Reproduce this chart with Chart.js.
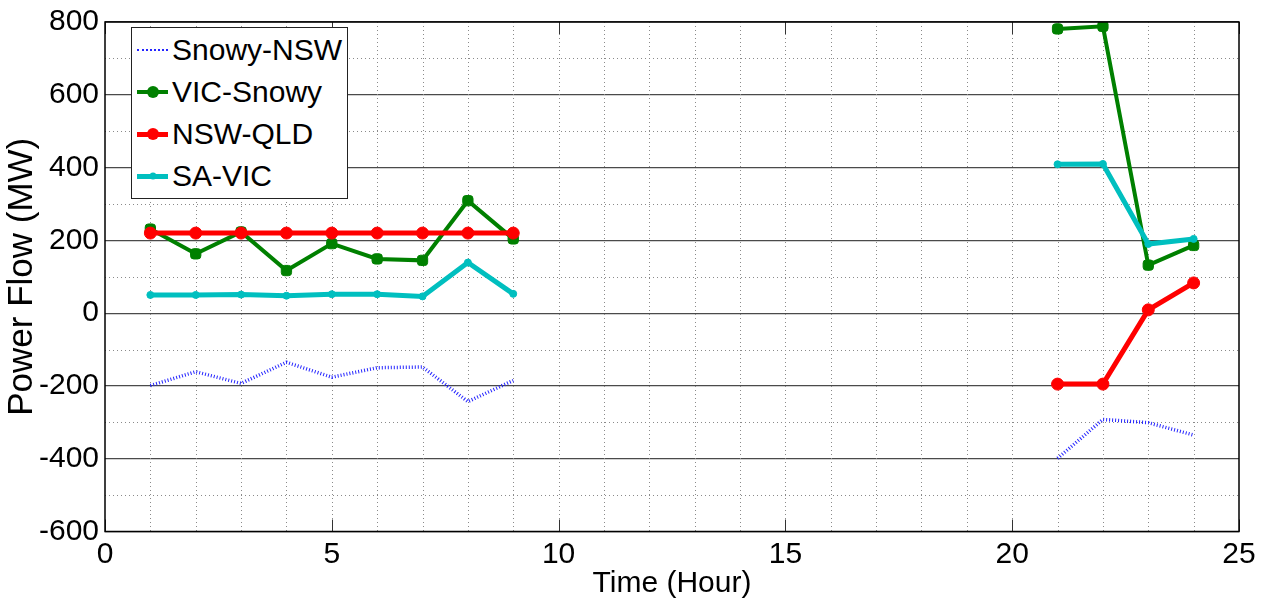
<!DOCTYPE html>
<html>
<head>
<meta charset="utf-8">
<title>Interconnector power flow</title>
<script src="https://cdn.jsdelivr.net/npm/chart.js@4.4.1/dist/chart.umd.min.js"></script>
<style>
    html, body { margin: 0; padding: 0; background: #fff; }
    .wrap { position: relative; width: 1268px; height: 610px; overflow: hidden; }
    .legend {
        position: absolute; left: 131px; top: 27px; width: 217px; height: 172px;
        border: 1px solid #222; background: #fff; box-sizing: border-box; padding-top: 1px;
        font-family: 'Liberation Sans', Arial, sans-serif; font-size: 30px; color: #000;
    }
    .legend .row { position: relative; height: 42px; line-height: 42px; padding-left: 40px; white-space: nowrap; }
    .legend .swatch { position: absolute; left: 5px; top: 21px; width: 31px; }
    .legend .dot { position: absolute; left: 50%; border-radius: 50%; transform: translate(-50%, -50%); }
</style>
</head>
<body>
<div class="wrap">
    <canvas id="flowChart"></canvas>
    <div class="legend" id="legend"></div>
</div>
<script>
// Hourly interconnector flows (MW); hours 10-20 have no data
const hours = [1, 2, 3, 4, 5, 6, 7, 8, 9, 10, 11, 12, 13, 14, 15, 16, 17, 18, 19, 20, 21, 22, 23, 24];
const seriesNames = ['Snowy-NSW', 'VIC-Snowy', 'NSW-QLD', 'SA-VIC'];
const snowyNsw = [-199, -161, -193, -135, -176, -150, -148, -243, -185, null, null, null, null, null, null, null, null, null, null, null, -399, -292, -301, -335];
const vicSnowy = [231, 163, 223, 117, 191, 149, 145, 309, 204, null, null, null, null, null, null, null, null, null, null, null, 781, 788, 132, 186];
const nswQld = [220, 220, 220, 220, 220, 220, 220, 220, 220, null, null, null, null, null, null, null, null, null, null, null, -195, -195, 9, 83];
const saVic = [50, 50, 51, 48, 52, 52, 46, 139, 53, null, null, null, null, null, null, null, null, null, null, null, 409, 410, 190, 204];
const xTicks = [0, 5, 10, 15, 20, 25];
const yTicks = [-600, -400, -200, 0, 200, 400, 600, 800];

const SANS = "'Liberation Sans', Arial, sans-serif";
const points = vals => hours.map((h, i) => ({ x: h, y: vals[i] }));

// dotted minor grid, inner ticks and the closed axes box
const matlabAxes = {
    id: 'matlabAxes',
    beforeDatasetsDraw(chart) {
        const { ctx, chartArea: a, scales: { x, y } } = chart;
        ctx.save();
        ctx.strokeStyle = '#8a8a8a';
        ctx.lineWidth = 1;
        ctx.setLineDash([1, 3]);
        for (let h = 1; h < 25; h++) {
            const px = Math.round(x.getPixelForValue(h)) + 0.5;
            ctx.beginPath(); ctx.moveTo(px, a.top); ctx.lineTo(px, a.bottom); ctx.stroke();
        }
        for (let v = -500; v < 800; v += 200) {
            const py = Math.round(y.getPixelForValue(v)) + 0.5;
            ctx.beginPath(); ctx.moveTo(a.left, py); ctx.lineTo(a.right, py); ctx.stroke();
        }
        ctx.setLineDash([]);
        ctx.strokeStyle = '#333';
        xTicks.forEach(t => {
            const px = Math.round(x.getPixelForValue(t)) + 0.5;
            ctx.beginPath();
            ctx.moveTo(px, a.bottom); ctx.lineTo(px, a.bottom - 12);
            ctx.moveTo(px, a.top); ctx.lineTo(px, a.top + 12);
            ctx.stroke();
        });
        ctx.restore();
    },
    afterDraw(chart) {
        const { ctx, chartArea: a } = chart;
        ctx.save();
        ctx.strokeStyle = '#000';
        ctx.lineWidth = 1.5;
        ctx.strokeRect(a.left, a.top, a.right - a.left, a.bottom - a.top);
        ctx.restore();
    }
};

const chart = new Chart(document.getElementById('flowChart'), {
    type: 'line',
    data: {
        datasets: [
            {
                label: seriesNames[0], data: points(snowyNsw), order: 4,
                borderColor: '#2424ff', borderWidth: 3.5, borderDash: [1, 2], pointRadius: 0
            },
            {
                label: seriesNames[1], data: points(vicSnowy), order: 3,
                borderColor: '#008000', backgroundColor: '#008000', borderWidth: 4,
                pointStyle: 'rectRounded', pointRadius: 6, pointBorderWidth: 1
            },
            {
                label: seriesNames[2], data: points(nswQld), order: 2,
                borderColor: '#ff0000', backgroundColor: '#ff0000', borderWidth: 5,
                pointRadius: 6, pointBorderWidth: 1
            },
            {
                label: seriesNames[3], data: points(saVic), order: 1,
                borderColor: '#00bfbf', backgroundColor: '#00bfbf', borderWidth: 5,
                pointRadius: 3.5, pointBorderWidth: 1
            }
        ]
    },
    options: {
        responsive: true,
        maintainAspectRatio: false,
        animation: false,
        spanGaps: false,
        layout: { padding: { top: 22, right: 29, left: 0, bottom: 0 } },
        plugins: { legend: { display: false }, tooltip: { enabled: false } },
        elements: { line: { tension: 0 } },
        scales: {
            x: {
                type: 'linear', min: 0, max: 25,
                afterBuildTicks: s => { s.ticks = xTicks.map(v => ({ value: v })); },
                afterFit: s => { s.height = 78.5; },
                grid: { display: false, drawTicks: false },
                border: { display: false },
                ticks: { color: '#000', padding: 8, font: { family: SANS, size: 30, lineHeight: 1 } },
                title: {
                    display: true, text: 'Time (Hour)', color: '#000',
                    font: { family: SANS, size: 30, lineHeight: 1.2 }, padding: { top: 0, bottom: 8 }
                }
            },
            y: {
                type: 'linear', min: -600, max: 800,
                afterBuildTicks: s => { s.ticks = yTicks.map(v => ({ value: v })); },
                afterFit: s => { s.width = 105; },
                grid: { color: '#4a4a4a', lineWidth: 1.2, drawTicks: false },
                border: { display: false },
                ticks: { color: '#000', padding: 6, font: { family: SANS, size: 30, lineHeight: 1 } },
                title: {
                    display: true, text: 'Power Flow (MW)', color: '#000',
                    font: { family: SANS, size: 35, lineHeight: 1.2 }, padding: { top: 1, bottom: 0 }
                }
            }
        }
    },
    plugins: [matlabAxes]
});

// legend box in the upper-left of the plot
const legendEl = document.getElementById('legend');
chart.data.datasets.forEach(ds => {
    const row = document.createElement('div');
    row.className = 'row';
    const sw = document.createElement('span');
    sw.className = 'swatch';
    const style = ds.borderDash ? 'dotted' : 'solid';
    const w = ds.borderDash ? 2 : ds.borderWidth;
    sw.style.borderTop = `${w}px ${style} ${ds.borderColor}`;
    sw.style.marginTop = `${-w / 2}px`;
    if (ds.pointRadius) {
        const dot = document.createElement('span');
        dot.className = 'dot';
        const d = ds.pointRadius * 2;
        dot.style.width = d + 'px';
        dot.style.height = d + 'px';
        dot.style.top = `${-w / 2}px`;
        dot.style.background = ds.backgroundColor;
        sw.appendChild(dot);
    }
    row.appendChild(sw);
    row.appendChild(document.createTextNode(ds.label));
    legendEl.appendChild(row);
});
</script>
</body>
</html>
